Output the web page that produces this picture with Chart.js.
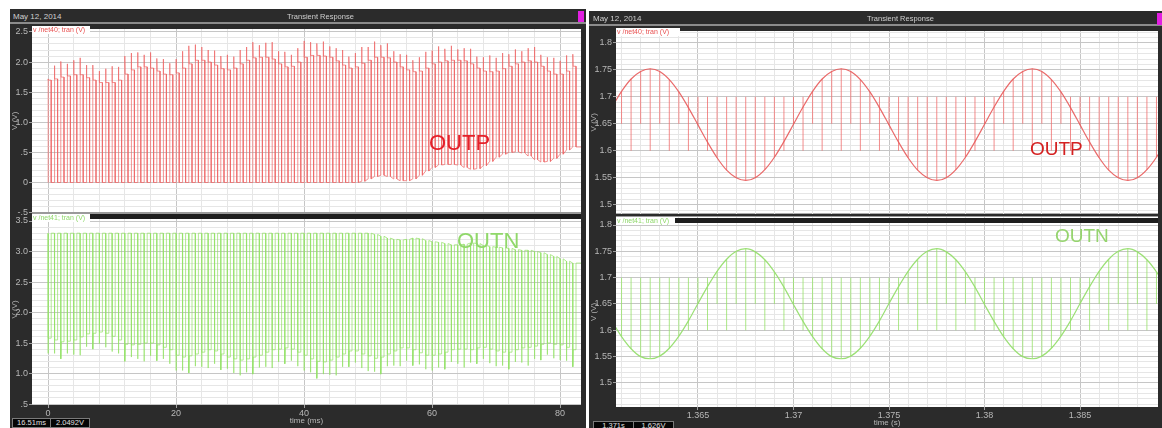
<!DOCTYPE html>
<html><head><meta charset="utf-8">
<script src="https://cdn.jsdelivr.net/npm/chart.js@4/dist/chart.umd.min.js"></script>
<style>
html,body{margin:0;padding:0;background:#fff;}
#wrap{position:relative;width:1162px;height:428px;overflow:hidden;background:#fff;font-family:"Liberation Sans",Arial,sans-serif;}
.frame{position:absolute;background:#2b2b2b;z-index:0;}
canvas{position:absolute;z-index:1;}
.ov{position:absolute;white-space:nowrap;z-index:3;}
.ttl{color:#cfcfcf;font-size:8px;line-height:9px;}
.tab{background:#fff;font-size:7px;line-height:8px;padding-left:1px;box-sizing:border-box;}
.big{font-size:22px;line-height:22px;}
.rd{background:#050505;border:1px solid #7a7a7a;color:#e0e0e0;font-size:7.5px;line-height:8px;text-align:center;box-sizing:border-box;}
</style></head><body>
<div id="wrap">
  <div class="frame" style="left:10px;top:9px;width:576px;height:419px"></div>
  <div class="frame" style="left:589px;top:11px;width:573px;height:417px"></div>

  <canvas id="lt"></canvas>
  <canvas id="lb"></canvas>
  <canvas id="rt"></canvas>
  <canvas id="rb"></canvas>

  <!-- left screenshot chrome -->
  <div class="ov ttl" style="left:13px;top:12px">May 12, 2014</div>
  <div class="ov ttl" style="left:287px;top:12px;font-size:7.5px">Transient Response</div>
  <div class="ov" style="left:10px;top:22px;width:576px;height:2px;background:#8c8c8c"></div>
  <div class="ov" style="left:578px;top:11px;width:6px;height:11px;background:#e21fe2"></div>
  <div class="ov tab" style="left:32px;top:26px;width:58px;height:8px;color:#e85050">v /net40; tran (V)</div>
  <div class="ov" style="left:32px;top:212px;width:549px;height:2px;background:#9a9a9a"></div>
  <div class="ov" style="left:90px;top:214px;width:491px;height:5px;background:#1e1e1e"></div>
  <div class="ov tab" style="left:32px;top:214px;width:58px;height:8px;color:#8fd86a">v /net41; tran (V)</div>
  <div class="ov big" style="left:429px;top:132px;color:#e5202a">OUTP</div>
  <div class="ov big" style="left:457px;top:230px;color:#90d86a">OUTN</div>
  <div class="ov rd" style="left:12px;top:418px;width:39px;height:10px">16.51ms</div>
  <div class="ov rd" style="left:50px;top:418px;width:40px;height:10px">2.0492V</div>

  <!-- right screenshot chrome -->
  <div class="ov ttl" style="left:593px;top:14px">May 12, 2014</div>
  <div class="ov ttl" style="left:867px;top:14px;font-size:7.5px">Transient Response</div>
  <div class="ov" style="left:589px;top:24px;width:573px;height:2px;background:#8c8c8c"></div>
  <div class="ov" style="left:1157px;top:13px;width:5px;height:12px;background:#e21fe2"></div>
  <div class="ov tab" style="left:616px;top:28px;width:64px;height:8px;color:#e85050">v /net40; tran (V)</div>
  <div class="ov" style="left:616px;top:216px;width:542px;height:1px;background:#9a9a9a"></div>
  <div class="ov" style="left:675px;top:218px;width:483px;height:5px;background:#1e1e1e"></div>
  <div class="ov tab" style="left:616px;top:217px;width:59px;height:8px;color:#8fd86a">v /net41; tran (V)</div>
  <div class="ov big" style="left:1030px;top:139px;font-size:19px;line-height:19px;color:#d42020">OUTP</div>
  <div class="ov big" style="left:1055px;top:226px;font-size:19px;line-height:19px;color:#95d46e">OUTN</div>
  <div class="ov rd" style="left:593px;top:421px;width:41px;height:9px">1.371s</div>
  <div class="ov rd" style="left:633px;top:421px;width:41px;height:9px">1.626V</div>
</div>
<script>
// ---------------- data ----------------
// Left screenshot: 83 pulses, one per ms
const pulseStartMs = [0,1,2,3,4,5,6,7,8,9,10,11,12,13,14,15,16,17,18,19,20,21,22,23,24,25,26,27,28,29,30,31,32,33,34,35,36,37,38,39,40,41,42,43,44,45,46,47,48,49,50,51,52,53,54,55,56,57,58,59,60,61,62,63,64,65,66,67,68,69,70,71,72,73,74,75,76,77,78,79,80,81,82];
const pulseHighMs = 0.5;

// OUTP (net40) - pulse plateau, overshoot tip and low level (V)
const outpPlateau = [1.70,1.72,1.75,1.77,1.79,1.79,1.74,1.70,1.66,1.66,
 1.66,1.70,1.80,1.87,1.92,1.92,1.90,1.85,1.80,1.79,
 1.82,1.90,1.97,2.03,2.03,2.00,1.95,1.89,1.87,1.90,
 1.97,2.03,2.07,2.08,2.08,2.05,1.97,1.92,1.93,2.00,
 2.08,2.11,2.11,2.10,2.08,2.02,1.95,1.90,1.92,1.98,
 2.03,2.08,2.08,2.07,2.00,1.92,1.87,1.84,1.85,1.90,
 1.97,2.00,2.02,2.03,2.03,2.02,1.97,1.90,1.85,1.84,
 1.85,1.89,1.93,1.97,2.00,2.02,2.00,1.93,1.85,1.80,
 1.80,1.85,1.93];
const outpTip = [1.72,1.94,2.01,1.97,2.03,2.07,1.95,1.95,1.85,1.89,
 1.93,1.92,2.10,2.15,2.16,2.12,2.16,2.06,2.05,1.98,
 2.05,2.18,2.27,2.29,2.25,2.20,2.19,2.10,2.12,2.09,
 2.20,2.25,2.33,2.28,2.32,2.33,2.18,2.17,2.12,2.23,
 2.35,2.33,2.31,2.34,2.26,2.23,2.20,2.09,2.15,2.25,
 2.25,2.34,2.28,2.31,2.18,2.13,2.12,2.03,2.08,2.17,
 2.19,2.26,2.22,2.27,2.21,2.23,2.22,2.09,2.08,2.11,
 2.07,2.15,2.13,2.21,2.18,2.23,2.25,2.12,2.08,2.07,
 2.02,2.11,2.13];
const outpLow = [0,0,0,0,0,0,0,0,0,0,
 0,0,0,0,0,0,0,0,0,0,
 0,0,0,0,0,0,0,0,0,0,
 0,0,0,0,0,0,0,0,0,0,
 0,0,0,0,0,0,0,0,0,0.02,
 0.06,0.10,0.12,0.10,0.06,0.03,0.03,0.06,0.12,0.19,
 0.25,0.29,0.30,0.30,0.29,0.25,0.22,0.23,0.28,0.35,
 0.42,0.47,0.50,0.51,0.49,0.44,0.38,0.34,0.35,0.40,
 0.47,0.54,0.59];

// OUTN (net41) - high level, low plateau and undershoot tip (V)
const outnHigh = [3.30,3.30,3.30,3.30,3.30,3.30,3.30,3.30,3.30,3.30,
 3.30,3.30,3.30,3.30,3.30,3.30,3.30,3.30,3.30,3.30,
 3.30,3.30,3.30,3.30,3.30,3.30,3.30,3.30,3.30,3.30,
 3.30,3.30,3.30,3.30,3.30,3.30,3.30,3.30,3.30,3.30,
 3.30,3.30,3.30,3.30,3.30,3.30,3.30,3.30,3.30,3.30,
 3.30,3.28,3.25,3.22,3.20,3.19,3.20,3.22,3.21,3.18,
 3.16,3.15,3.13,3.11,3.11,3.12,3.14,3.13,3.10,3.08,
 3.07,3.06,3.05,3.03,3.02,3.02,3.00,2.98,2.95,2.92,
 2.88,2.84,2.81];
const outnLow = [1.58,1.55,1.52,1.53,1.55,1.60,1.65,1.66,1.68,1.66,
 1.61,1.55,1.48,1.47,1.48,1.50,1.50,1.47,1.43,1.39,
 1.30,1.27,1.29,1.32,1.35,1.39,1.37,1.32,1.27,1.24,
 1.22,1.24,1.27,1.30,1.35,1.39,1.40,1.42,1.40,1.35,
 1.30,1.24,1.20,1.19,1.22,1.27,1.32,1.37,1.37,1.32,
 1.29,1.25,1.27,1.32,1.37,1.42,1.42,1.39,1.34,1.30,
 1.30,1.32,1.35,1.39,1.40,1.40,1.39,1.42,1.43,1.40,
 1.37,1.35,1.35,1.39,1.42,1.43,1.45,1.48,1.50,1.48,
 1.47,1.43,1.39];
const outnTip = [1.33,1.33,1.24,1.33,1.31,1.30,1.44,1.40,1.49,1.43,
 1.36,1.33,1.20,1.27,1.24,1.20,1.29,1.21,1.24,1.16,
 1.05,1.05,1.01,1.12,1.11,1.09,1.16,1.06,1.08,1.01,
 0.97,1.02,0.99,1.10,1.11,1.09,1.19,1.16,1.21,1.12,
 1.05,1.02,0.92,0.99,0.98,0.97,1.11,1.11,1.18,1.09,
 1.04,1.03,0.99,1.12,1.13,1.12,1.21,1.13,1.15,1.07,
 1.05,1.10,1.07,1.19,1.16,1.10,1.18,1.16,1.24,1.17,
 1.12,1.13,1.07,1.19,1.18,1.13,1.24,1.22,1.31,1.25,
 1.22,1.21,1.11];

// Right screenshot (zoomed, time in s)
const rightTimes = [1.3605,1.3610,1.3615,1.3620,1.3625,1.3630,1.3635,1.3640,1.3645,1.3650,
 1.3655,1.3660,1.3665,1.3670,1.3675,1.3680,1.3685,1.3690,1.3695,1.3700,
 1.3705,1.3710,1.3715,1.3720,1.3725,1.3730,1.3735,1.3740,1.3745,1.3750,
 1.3755,1.3760,1.3765,1.3770,1.3775,1.3780,1.3785,1.3790,1.3795,1.3800,
 1.3805,1.3810,1.3815,1.3820,1.3825,1.3830,1.3835,1.3840,1.3845,1.3850,
 1.3855,1.3860,1.3865,1.3870,1.3875,1.3880,1.3885,1.3890,1.3895];
const outpSine = [1.681,1.710,1.733,1.747,1.752,1.747,1.732,1.709,1.680,1.648,1.616,1.587,1.564,1.550,1.545,1.550,1.565,1.588,1.617,1.649,
 1.681,1.710,1.733,1.747,1.752,1.747,1.732,1.709,1.680,1.648,1.616,1.587,1.564,1.550,1.545,1.550,1.565,1.588,1.617,1.649,
 1.681,1.710,1.733,1.747,1.752,1.747,1.732,1.709,1.680,1.648,1.616,1.587,1.564,1.550,1.545,1.550,1.565,1.588,1.617];
const outnSine = [1.617,1.588,1.565,1.550,1.546,1.551,1.566,1.589,1.618,1.651,1.683,1.712,1.735,1.750,1.755,1.749,1.734,1.711,1.682,1.649,
 1.617,1.588,1.565,1.550,1.546,1.551,1.566,1.589,1.618,1.651,1.683,1.712,1.735,1.750,1.755,1.749,1.734,1.711,1.682,1.649,
 1.617,1.588,1.565,1.550,1.546,1.551,1.566,1.589,1.618,1.651,1.683,1.712,1.735,1.750,1.755,1.749,1.734,1.711,1.682];
const barTopV = 1.70;
const barBottomV = [1.60,1.65,1.60,1.65,1.60,1.65,1.60,1.65,1.60,1.65,
 1.60,1.65,1.60,1.65,1.60,1.65,1.60,1.65,1.60,1.65,
 1.60,1.65,1.60,1.65,1.60,1.65,1.60,1.65,1.60,1.65,
 1.60,1.65,1.60,1.65,1.60,1.65,1.60,1.65,1.60,1.65,
 1.60,1.65,1.60,1.65,1.60,1.65,1.60,1.65,1.60,1.65,
 1.60,1.65,1.60,1.65,1.60,1.65,1.60,1.65,1.60];

// tick labels
const leftXLabels = [0,20,40,60,80];
const leftTopYLabels = [-0.5,0,0.5,1.0,1.5,2.0,2.5];
const leftBotYLabels = [0.5,1.0,1.5,2.0,2.5,3.0,3.5];
const rightXLabels = [1.365,1.37,1.375,1.38,1.385];
const rightYLabels = [1.5,1.55,1.6,1.65,1.7,1.75,1.8];

// ---------------- helpers ----------------
function steps(from,to,step){const out=[];const n=Math.round((to-from)/step);for(let i=0;i<=n;i++)out.push(Math.round((from+i*step)*1e6)/1e6);return out;}
const has=(arr,v)=>arr.some(a=>Math.abs(a-v)<1e-7);

function buildOutp(){
  const pts=[];
  pulseStartMs.forEach((t,k)=>{
    pts.push({x:t,y:outpLow[k]},{x:t,y:outpTip[k]},{x:t+0.06,y:outpPlateau[k]},
             {x:t+pulseHighMs,y:outpPlateau[k]},{x:t+pulseHighMs,y:outpLow[k]});
  });
  const last=pulseStartMs.length-1;
  pts.push({x:pulseStartMs[last]+1.3,y:outpLow[last]});
  return pts;
}
function buildOutn(){
  const pts=[];
  pulseStartMs.forEach((t,k)=>{
    pts.push({x:t,y:outnHigh[k]},{x:t,y:outnTip[k]},{x:t+0.06,y:outnLow[k]},
             {x:t+pulseHighMs,y:outnLow[k]},{x:t+pulseHighMs,y:outnHigh[k]});
  });
  const last=pulseStartMs.length-1;
  pts.push({x:pulseStartMs[last]+1.3,y:outnHigh[last]});
  return pts;
}
function buildBars(sine){
  const pts=[];
  rightTimes.forEach((t,k)=>{
    pts.push({x:t,y:Math.min(sine[k],barBottomV[k])},{x:t,y:Math.max(sine[k],barTopV)},{x:t,y:null});
  });
  return pts;
}
const sinePts=(s)=>rightTimes.map((t,k)=>({x:t,y:s[k]}));

const plotBg={id:'plotBg',beforeDraw(c){const a=c.chartArea,x=c.ctx;x.save();x.fillStyle='#ffffff';x.fillRect(a.left,a.top,a.right-a.left,a.bottom-a.top);x.restore();}};
const FONT='"Liberation Sans", Arial, sans-serif';

function panel(p){
  const cv=document.getElementById(p.id);
  cv.width=p.w;cv.height=p.h;
  cv.style.left=p.left+'px';cv.style.top=p.top+'px';cv.style.width=p.w+'px';cv.style.height=p.h+'px';
  const gridColor=(labels)=>(c)=>(c.tick&&has(labels,c.tick.value))?'#c6c6c6':'#e6e6e6';
  const tickColor=(labels)=>(c)=>(c.tick&&has(labels,c.tick.value))?'#a0a0a0':'rgba(0,0,0,0)';
  new Chart(cv,{
    type:'line',
    data:{datasets:p.datasets},
    options:{
      responsive:false,maintainAspectRatio:false,animation:false,devicePixelRatio:1,events:[],
      layout:{autoPadding:false,padding:{top:p.padTop,bottom:p.padBottom,left:0,right:p.padRight}},
      plugins:{legend:{display:false},tooltip:{enabled:false},title:{display:false}},
      elements:{point:{radius:0,hoverRadius:0}},
      scales:{
        x:{type:'linear',position:'bottom',min:p.xMin,max:p.xMax,bounds:'data',
          afterBuildTicks:s=>{s.ticks=p.xGrid.map(v=>({value:v}));},
          afterFit:s=>{s.height=p.xAxisH;},
          ticks:{display:p.showX,autoSkip:false,maxRotation:0,minRotation:0,padding:0,color:'#b8b8b8',font:{family:FONT,size:9},
            callback:v=>has(p.xLabels,v)?p.xFmt(v):''},
          grid:{color:gridColor(p.xLabels),lineWidth:1,drawTicks:p.showX,tickLength:3,tickColor:tickColor(p.xLabels)},
          border:{display:false},
          title:{display:p.showX,text:p.xTitle||'',color:'#b8b8b8',font:{family:FONT,size:8},padding:{top:0,bottom:p.xTitlePad||0}}
        },
        y:{type:'linear',position:'left',min:p.yMin,max:p.yMax,bounds:'data',
          afterBuildTicks:s=>{s.ticks=p.yGrid.map(v=>({value:v}));},
          afterFit:s=>{s.width=p.yAxisW;},
          ticks:{autoSkip:false,padding:1,color:'#b8b8b8',font:{family:FONT,size:9},
            callback:v=>has(p.yLabels,v)?p.yFmt(v):''},
          grid:{color:gridColor(p.yLabels),lineWidth:1,drawTicks:true,tickLength:3,tickColor:tickColor(p.yLabels)},
          border:{display:false},
          title:{display:true,text:'V (V)',color:'#b0b0b0',font:{family:FONT,size:8},padding:0}
        }
      }
    },
    plugins:[plotBg]
  });
}

const fmtLeftY=v=>{if(Math.abs(v)<1e-9)return '0';if(Math.abs(v)<1)return (v<0?'-':'')+'.'+Math.round(Math.abs(v)*10);return v.toFixed(1);};
const fmtRightY=v=>String(Number(v.toFixed(2)));
const fmtRightX=v=>String(Number(v.toFixed(3)));
const fmtLeftX=v=>String(Math.round(v));

const lineDs=(data,color,w)=>({data,borderColor:color,borderWidth:w,fill:false,pointRadius:0,tension:0,spanGaps:false,clip:0});
const sineDs=(data,color)=>({data,borderColor:color,borderWidth:1.2,fill:false,pointRadius:0,cubicInterpolationMode:'monotone',clip:0});

// Left top: OUTP
panel({id:'lt',left:10,top:21,w:573,h:198,padTop:8,padBottom:4,padRight:2,yAxisW:22,xAxisH:0,showX:false,
  xMin:-2.5,xMax:83.28,xGrid:steps(0,80,4),xLabels:leftXLabels,xFmt:fmtLeftX,
  yMin:-0.5,yMax:2.549,yGrid:steps(-0.5,2.5,0.1),yLabels:leftTopYLabels,yFmt:fmtLeftY,
  datasets:[lineDs(buildOutp(),'rgba(238,100,100,0.7)',1)]});
// Left bottom: OUTN
panel({id:'lb',left:10,top:206,w:573,h:222,padTop:8,padBottom:0,padRight:2,yAxisW:22,xAxisH:23,showX:true,xTitle:'time (ms)',xTitlePad:2,
  xMin:-2.5,xMax:83.28,xGrid:steps(0,80,4),xLabels:leftXLabels,xFmt:fmtLeftX,
  yMin:0.484,yMax:3.615,yGrid:steps(0.5,3.6,0.1),yLabels:leftBotYLabels,yFmt:fmtLeftY,
  datasets:[lineDs(buildOutn(),'rgba(145,225,100,0.7)',1)]});
// Right top: OUTP zoom
panel({id:'rt',left:589,top:23,w:571,h:197,padTop:8,padBottom:4,padRight:2,yAxisW:27,xAxisH:0,showX:false,
  xMin:1.36071,xMax:1.38908,xGrid:steps(1.361,1.388,0.001),xLabels:rightXLabels,xFmt:fmtRightX,
  yMin:1.4835,yMax:1.822,yGrid:steps(1.49,1.82,0.01),yLabels:rightYLabels,yFmt:fmtRightY,
  datasets:[sineDs(sinePts(outpSine),'rgba(232,90,90,0.9)'),lineDs(buildBars(outpSine),'rgba(240,110,110,0.8)',1)]});
// Right bottom: OUTN zoom
panel({id:'rb',left:589,top:209,w:571,h:219,padTop:8,padBottom:0,padRight:2,yAxisW:27,xAxisH:21,showX:true,xTitle:'time (s)',xTitlePad:0,
  xMin:1.36071,xMax:1.38908,xGrid:steps(1.361,1.388,0.001),xLabels:rightXLabels,xFmt:fmtRightX,
  yMin:1.4544,yMax:1.8152,yGrid:steps(1.46,1.81,0.01),yLabels:rightYLabels,yFmt:fmtRightY,
  datasets:[sineDs(sinePts(outnSine),'rgba(150,222,110,0.95)'),lineDs(buildBars(outnSine),'rgba(150,225,105,0.8)',1)]});
</script>
</body></html>
